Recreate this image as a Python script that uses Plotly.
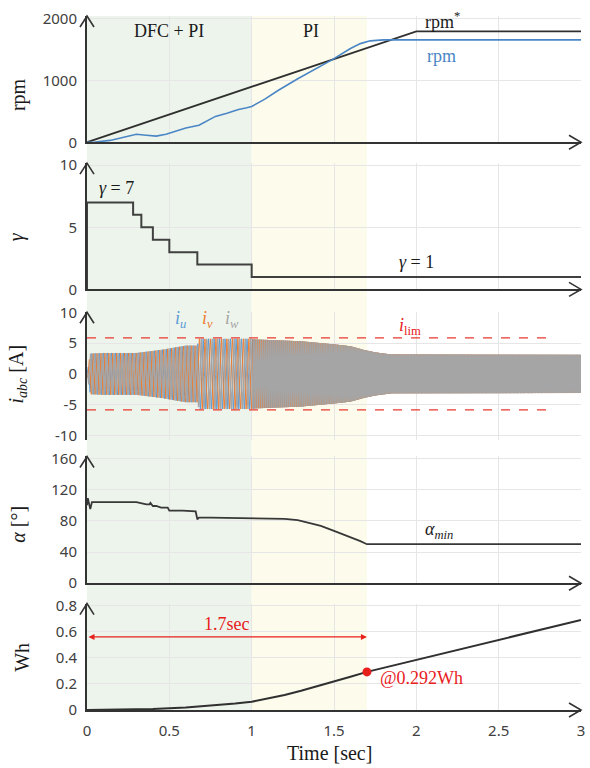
import numpy as np
import plotly.graph_objects as go

# ---------------- data ----------------
# speed panel
rpm_ref_t = [0.0, 2.0, 3.0]
rpm_ref_val = [0, 1800, 1800]
rpm_t = [0.0, 0.05, 0.14, 0.22, 0.30, 0.36, 0.42, 0.48, 0.53, 0.60, 0.68, 0.74, 0.78,
         0.85, 0.92, 0.97, 1.00, 1.08, 1.16, 1.28, 1.40, 1.49, 1.60, 1.66, 1.72, 1.80, 3.0]
rpm_val = [0, 5, 30, 85, 130, 115, 100, 130, 175, 230, 275, 360, 420,
           470, 530, 560, 580, 700, 840, 1030, 1200, 1341, 1520, 1600, 1645, 1660, 1660]

# gamma panel (step)
gamma_t = [0.0, 0.0, 0.28, 0.33, 0.40, 0.50, 0.67, 1.0, 3.0]
gamma_val = [0, 7, 6, 5, 4, 3, 2, 1, 1]

# phase current envelope / electrical frequency
cur_env_t = [0.0, 0.02, 0.1, 0.3, 0.45, 0.6, 0.67, 0.68, 1.0, 1.02, 1.3, 1.5, 1.6, 1.68, 1.75, 1.85, 3.0]
cur_env_amp = [0.0, 3.3, 3.4, 3.4, 3.9, 4.6, 4.6, 5.7, 5.7, 5.6, 5.3, 4.8, 4.5, 3.9, 3.5, 3.15, 3.1]
cur_freq_t = [0.0, 0.67, 0.68, 1.0, 1.01, 1.7, 3.0]
cur_freq_hz = [42, 42, 30, 30, 75, 110, 110]
ilim_t = [0.0, 2.84]
ilim_val = 5.85

# alpha panel
alpha_t = [0.0, 0.005, 0.02, 0.03, 0.05, 0.15, 0.30, 0.36, 0.38, 0.385, 0.40, 0.42, 0.45, 0.49, 0.50,
           0.58, 0.66, 0.67, 0.68, 0.75, 0.85, 1.0, 1.1, 1.2, 1.28, 1.35, 1.42, 1.5, 1.56, 1.62, 1.66, 1.7, 3.0]
alpha_val = [100, 109, 95, 104, 104, 104, 104, 101, 101, 103, 99, 99, 97, 97, 93,
             93, 92, 82, 84, 84, 83.5, 83, 83, 82.5, 81, 77.5, 73.5, 67, 62.5, 58, 54, 50, 50]

# energy panel
wh_t = [0.0, 0.2, 0.4, 0.6, 0.8, 0.9, 1.0, 1.1, 1.2, 1.3, 1.4, 1.5, 1.6, 1.7, 3.0]
wh_val = [0.0, 0.002, 0.008, 0.02, 0.038, 0.049, 0.063, 0.087, 0.115, 0.147, 0.181, 0.218, 0.255, 0.292, 0.69]
mark_t = [1.7]
mark_wh = [0.292]

x_ticks = [0, 0.5, 1, 1.5, 2, 2.5, 3]
x_ticktext = ['0', '0.5', '1', '1.5', '2', '2.5', '3']

# ---------------- geometry ----------------
W, H = 590, 768
ML, MR, MT, MB = 87, 5, 12, 58
PW, PH = W - ML - MR, H - MT - MB


def PX(px):
    return (px - ML) / PW


def PY(py):
    return (H - MB - py) / PH


AX = '#333333'
SERIF = 'Liberation Serif'
SANS = 'Noto Sans'
TICKC = '#404040'
GRID = '#e6e6e6'

fig = go.Figure()

# ---- rpm
fig.add_trace(go.Scatter(x=rpm_ref_t, y=rpm_ref_val, mode='lines', line=dict(color='#303030', width=1.8),
                         xaxis='x', yaxis='y', showlegend=False))
fig.add_trace(go.Scatter(x=rpm_t, y=rpm_val, mode='lines', line=dict(color='#4a86c5', width=1.6),
                         xaxis='x', yaxis='y', showlegend=False))
# ---- gamma
fig.add_trace(go.Scatter(x=gamma_t, y=gamma_val, mode='lines', line=dict(color='#404040', width=2, shape='hv'),
                         xaxis='x2', yaxis='y2', showlegend=False))
# ---- currents
tt = np.linspace(0, 3, 14000)
amp = np.interp(tt, cur_env_t, cur_env_amp)
freq = np.interp(tt, cur_freq_t, cur_freq_hz)
phase = 2 * np.pi * np.cumsum(freq) * (tt[1] - tt[0])
cols = ['#5b9bd5', '#ed7d31', '#a5a5a5']
widths = [1, 1, 1.4]
for k, c in enumerate(cols):
    fig.add_trace(go.Scatter(x=tt, y=amp * np.sin(phase - 2 * np.pi * k / 3), mode='lines',
                             line=dict(color=c, width=widths[k]), xaxis='x3', yaxis='y3', showlegend=False))
for s in (1, -1):
    fig.add_trace(go.Scatter(x=ilim_t, y=[s * ilim_val] * 2, mode='lines',
                             line=dict(color='#e8392f', width=1.2, dash='dash'),
                             xaxis='x3', yaxis='y3', showlegend=False))
# ---- alpha
fig.add_trace(go.Scatter(x=alpha_t, y=alpha_val, mode='lines', line=dict(color='#383838', width=1.8),
                         xaxis='x4', yaxis='y4', showlegend=False))
# ---- Wh
fig.add_trace(go.Scatter(x=wh_t, y=wh_val, mode='lines', line=dict(color='#303030', width=2),
                         xaxis='x5', yaxis='y5', showlegend=False))
fig.add_trace(go.Scatter(x=mark_t, y=mark_wh, mode='markers', marker=dict(color='#e8201c', size=9),
                         xaxis='x5', yaxis='y5', showlegend=False))

panels = [
    # (top_px, bottom_px, range, tickvals, show x line)
    (12, 139, [0, 2048], [0, 1000, 2000], True),
    (160, 287, [0, 10.16], [0, 5, 10], True),
    (310, 438, [-10.65, 10], [-10, -5, 0, 5, 10], False),
    (455, 582.5, [0, 162.5], [0, 40, 80, 120, 160], True),
    (603, 710, [0, 0.815], [0, 0.2, 0.4, 0.6, 0.8], True),
]
tick_text = [
    ['0', '1000', '2000'],
    ['0', '5', '10'],
    ['-10', '-5', '0', '5', '10'],
    ['0', '40', '80', '120', '160'],
    ['0', '0.2', '0.4', '0.6', '0.8'],
]

layout = dict(width=W, height=H, margin=dict(l=ML, r=MR, t=MT, b=MB),
              paper_bgcolor='white', plot_bgcolor='rgba(0,0,0,0)', showlegend=False)
shapes = []
for i, (top, bot, rng, tv, xline) in enumerate(panels):
    n = '' if i == 0 else str(i + 1)
    last = i == 4
    layout['xaxis' + n] = dict(domain=[0, 1], range=[0, 3], anchor='y' + n,
                               showgrid=True, gridcolor=GRID, gridwidth=1,
                               tickvals=x_ticks, ticktext=x_ticktext, showticklabels=last,
                               ticks='', zeroline=False, showline=xline, linecolor=AX, linewidth=2,
                               tickfont=dict(family=SANS, size=15, color=TICKC),
                               ticklabelstandoff=6, fixedrange=True)
    layout['yaxis' + n] = dict(domain=[PY(bot), PY(top)], range=rng, anchor='x' + n,
                               tickvals=tv, ticktext=tick_text[i], showgrid=True, gridcolor=GRID,
                               zeroline=False, showline=True, linecolor=AX, linewidth=2, ticks='',
                               tickfont=dict(family=SANS, size=15, color=TICKC),
                               ticklabelstandoff=5, fixedrange=True)
    # up arrow on y axis (paper-referenced so it is not clipped)
    shapes.append(dict(type='path', xref='paper', yref='paper', xsizemode='pixel', ysizemode='pixel',
                       xanchor=0, yanchor=PY(top), path='M -7,-11 L 0,0 L 7,-11',
                       line=dict(color=AX, width=1.6)))
    if xline:
        shapes.append(dict(type='path', xref='paper', yref='paper', xsizemode='pixel', ysizemode='pixel',
                           xanchor=1, yanchor=PY(bot), path='M -12,-7 L 0,0 L -12,7',
                           line=dict(color=AX, width=1.6)))

# shaded regions
shapes.insert(0, dict(type='rect', xref='paper', yref='paper', x0=0, x1=1 / 3, y0=0, y1=1,
                      fillcolor='#edf4ec', line=dict(width=0), layer='below'))
shapes.insert(1, dict(type='rect', xref='paper', yref='paper', x0=1 / 3, x1=1.7 / 3, y0=0, y1=1,
                      fillcolor='#fdfbec', line=dict(width=0), layer='below'))
layout['shapes'] = shapes

ann = []


def T(text, x, y, xr, yr, size=18, color='#1a1a1a', xanchor='center', angle=0, family=SERIF):
    ann.append(dict(text=text, x=x, y=y, xref=xr, yref=yr, showarrow=False, xanchor=xanchor,
                    yanchor='middle', textangle=angle, font=dict(family=family, size=size, color=color)))


# panel texts
T('DFC + PI', 0.5, 1806, 'x', 'y')
T('PI', 1.36, 1806, 'x', 'y')
T('rpm<sup>*</sup>', 2.16, 1968, 'x', 'y')
T('rpm', 2.15, 1403, 'x', 'y', color='#4a86c5')
T('<i>γ</i> = 7', 0.18, 8.2, 'x2', 'y2')
T('<i>γ</i> = 1', 2.0, 2.2, 'x2', 'y2')
T('<i>i<sub>u</sub></i>', 0.57, 8.9, 'x3', 'y3', color='#5b9bd5')
T('<i>i<sub>v</sub></i>', 0.73, 8.9, 'x3', 'y3', color='#ed7d31')
T('<i>i<sub>w</sub></i>', 0.88, 8.9, 'x3', 'y3', color='#a5a5a5')
T('<i>i</i><sub>lim</sub>', 1.96, 7.7, 'x3', 'y3', color='#e8201c')
T('<i>α<sub>min</sub></i>', 2.14, 67, 'x4', 'y4')
T('1.7sec', 0.85, 0.66, 'x5', 'y5', color='#e8201c')
T('@0.292Wh', 1.77, 0.245, 'x5', 'y5', color='#e8201c', xanchor='left')
# y titles
T('rpm', PX(18), PY(91), 'paper', 'paper', size=20, angle=-90)
T('<i>γ</i>', PX(16), PY(234), 'paper', 'paper', size=20, angle=-90)
T('<i>i<sub>abc</sub></i> [A]', PX(17), PY(372), 'paper', 'paper', size=20, angle=-90)
T('<i>α</i> [°]', PX(18), PY(523), 'paper', 'paper', size=20, angle=-90)
T('Wh', PX(22), PY(657), 'paper', 'paper', size=20, angle=-90)
T('Time [sec]', PX(331), PY(753), 'paper', 'paper', size=20)

# double arrow
ann.append(dict(x=1.7, y=0.56, ax=0.0, ay=0.56, xref='x5', yref='y5', axref='x5', ayref='y5',
                showarrow=True, arrowhead=2, startarrowhead=2, arrowside='end+start',
                arrowsize=1, arrowwidth=1.2, arrowcolor='#e8201c', text=''))
layout['annotations'] = ann

fig.update_layout(**layout)
fig.write_html('out.html', config={'displayModeBar': False},
               post_script="document.body.style.margin='0';document.body.style.overflow='hidden';")
